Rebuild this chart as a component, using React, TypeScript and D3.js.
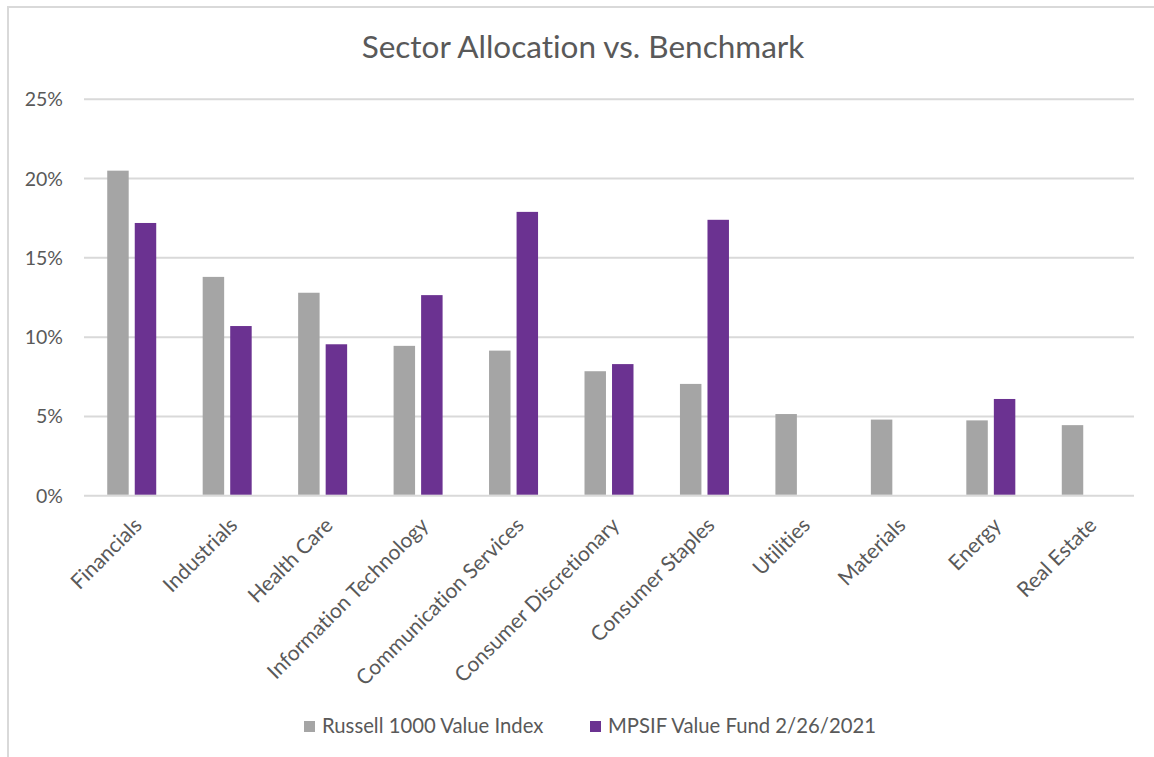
import React from "react";
import * as d3 from "d3";

const categories = [
  "Financials",
  "Industrials",
  "Health Care",
  "Information Technology",
  "Communication Services",
  "Consumer Discretionary",
  "Consumer Staples",
  "Utilities",
  "Materials",
  "Energy",
  "Real Estate",
];
const seriesNames = ["Russell 1000 Value Index", "MPSIF Value Fund 2/26/2021"];
const russellValues = [20.5, 13.8, 12.8, 9.45, 9.15, 7.85, 7.05, 5.15, 4.8, 4.75, 4.45];
const mpsifValues = [17.2, 10.7, 9.55, 12.65, 17.9, 8.3, 17.4, 0, 0, 6.1, 0];
const yTicks = [0, 5, 10, 15, 20, 25];
const colors = ["#A5A5A5", "#6B3291"];

const W = 1154;
const H = 757;
const FONT = "Lato, 'Open Sans', sans-serif";
const TEXT = "#595959";

const App = () => {
  const svgRef = React.useRef<SVGSVGElement>(null);

  React.useEffect(() => {
    const svg = d3.select(svgRef.current);
    svg.selectAll("*").remove();

    const left = 84;
    const right = 1134;
    const top = 99.3;
    const bottom = 495.7;

    const x0 = d3.scaleBand().domain(categories).range([left, right]).padding(0);
    const groupW = 49;
    const x1 = d3.scaleBand().domain(seriesNames).range([0, groupW]).paddingInner(0.22);
    const y = d3.scaleLinear().domain([0, 25]).range([bottom, top]);

    // chart border (top + left only visible)
    svg
      .append("path")
      .attr("d", `M8,${H} L8,7 L${W},7`)
      .attr("fill", "none")
      .attr("stroke", "#D9D9D9")
      .attr("stroke-width", 2);

    // title
    svg
      .append("text")
      .attr("x", 583)
      .attr("y", 58)
      .attr("text-anchor", "middle")
      .attr("font-family", FONT)
      .attr("font-size", 31.5)
      .attr("fill", TEXT)
      .text("Sector Allocation vs. Benchmark");

    // gridlines
    svg
      .append("g")
      .selectAll("line")
      .data(yTicks)
      .join("line")
      .attr("x1", left)
      .attr("x2", right)
      .attr("y1", (d) => y(d))
      .attr("y2", (d) => y(d))
      .attr("stroke", "#D9D9D9")
      .attr("stroke-width", 2);

    // y labels
    svg
      .append("g")
      .selectAll("text")
      .data(yTicks)
      .join("text")
      .attr("x", 63)
      .attr("y", (d) => y(d))
      .attr("dy", "0.36em")
      .attr("text-anchor", "end")
      .attr("font-family", FONT)
      .attr("font-size", 19.5)
      .attr("fill", TEXT)
      .text((d) => `${d}%`);

    // bars
    const allSeries = [russellValues, mpsifValues];
    const offset = (x0.bandwidth() - groupW) / 2;
    const groups = svg
      .append("g")
      .selectAll("g")
      .data(categories)
      .join("g")
      .attr("transform", (d) => `translate(${(x0(d) ?? 0) + offset},0)`);

    groups
      .selectAll("rect")
      .data((_, i) => seriesNames.map((s, k) => ({ s, k, v: allSeries[k][i] })))
      .join("rect")
      .filter((d) => d.v > 0)
      .attr("x", (d) => x1(d.s) ?? 0)
      .attr("width", x1.bandwidth())
      .attr("y", (d) => y(d.v))
      .attr("height", (d) => y(0) - y(d.v) - 1)
      .attr("fill", (d) => colors[d.k]);

    // category labels
    svg
      .append("g")
      .selectAll("text")
      .data(categories)
      .join("text")
      .attr(
        "transform",
        (d) => `translate(${(x0(d) ?? 0) + x0.bandwidth() / 2 + 1},516) rotate(-45)`
      )
      .attr("dy", "0.71em")
      .attr("text-anchor", "end")
      .attr("font-family", FONT)
      .attr("font-size", 21)
      .attr("fill", TEXT)
      .text((d) => d);

    // legend
    const legendX = [304, 590];
    const legend = svg
      .append("g")
      .selectAll("g")
      .data(seriesNames)
      .join("g")
      .attr("transform", (_, i) => `translate(${legendX[i]},721)`);
    legend
      .append("rect")
      .attr("width", 11)
      .attr("height", 11)
      .attr("fill", (_, i) => colors[i]);
    legend
      .append("text")
      .attr("x", 18)
      .attr("y", 12)
      .attr("font-family", FONT)
      .attr("font-size", 20.3)
      .attr("fill", TEXT)
      .text((d) => d);

    svg.selectAll("text").style("font-variant-ligatures", "none");
  }, []);

  return (
    <svg
      ref={svgRef}
      width={W}
      height={H}
      style={{ position: "absolute", left: 0, top: 0, background: "#fff" }}
    />
  );
};

export default App;
